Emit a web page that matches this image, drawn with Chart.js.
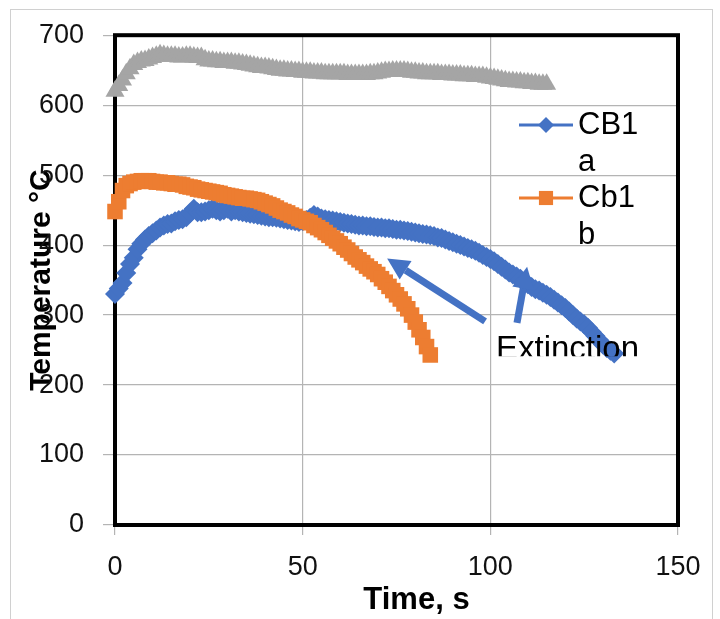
<!DOCTYPE html>
<html>
<head>
<meta charset="utf-8">
<script src="https://cdn.jsdelivr.net/npm/chart.js@4.4.1/dist/chart.umd.min.js"></script>
<style>
  html, body { margin: 0; padding: 0; background: #fff; }
  #wrap { width: 720px; height: 619px; }
</style>
</head>
<body>
<div id="wrap"><canvas id="temp-chart" width="720" height="619"></canvas></div>
<script>
// temperature readings in °C, one per second starting at t = 0 s
const cb1a = [
    330, 338, 346, 360, 373, 382, 394, 402, 408, 413,
    417, 421, 425, 428, 430, 431, 434, 436, 437, 440,
    446, 452, 447, 447, 448, 450, 452, 450, 448, 450,
    452, 448, 450, 448, 447, 446, 445, 444, 443, 442,
    441, 440, 440, 439, 438, 437, 436, 435, 434, 433,
    434, 436, 439, 443, 441, 438, 437, 436, 435, 434,
    433, 432, 431, 430, 429, 428, 428, 427, 427, 426,
    425, 425, 424, 424, 423, 422, 422, 421, 420, 419,
    418, 417, 416, 415, 414, 413, 411, 410, 408, 406,
    404, 402, 400, 398, 396, 394, 392, 389, 386, 383,
    380, 377, 373, 369, 365, 361, 358, 355, 352, 348,
    344, 340, 337, 335, 332, 329, 326, 322, 318, 314,
    310, 305, 300, 295, 291, 287, 282, 276, 270, 264,
    258, 253, 249, 245,
];
const cb1b = [
    448, 462, 478, 485, 488, 490, 491, 492, 492, 492,
    491, 490, 490, 489, 489, 488, 487, 487, 486, 484,
    483, 482, 480, 479, 478, 477, 476, 475, 474, 472,
    471, 470, 469, 468, 467, 467, 466, 465, 464, 462,
    460, 458, 456, 453, 450, 448, 446, 443, 441, 438,
    436, 434, 432, 428, 425, 422, 418, 414, 410, 406,
    402, 397, 393, 388, 383, 379, 375, 370, 366, 362,
    358, 352, 347, 341, 335, 329, 323, 316, 309, 300,
    290, 279, 268, 255, 243,
];
const cb1c = [
    620, 628, 636, 645, 652, 658, 661, 663, 664, 666,
    668, 670, 672, 671, 670, 670, 670, 669, 669, 670,
    670, 669, 668, 668, 665, 663, 663, 662, 662, 661,
    661, 661, 660, 660, 659, 658, 657, 656, 655, 654,
    654, 653, 652, 651, 650, 650, 649, 649, 648, 648,
    647, 647, 647, 646, 646, 646, 645, 645, 645, 645,
    645, 645, 644, 644, 644, 644, 644, 644, 645, 645,
    646, 647, 648, 648, 649, 649, 649, 649, 648, 647,
    647, 646, 646, 645, 645, 645, 645, 644, 644, 644,
    643, 643, 643, 642, 642, 642, 641, 641, 641, 640,
    639, 638, 637, 636, 635, 634, 634, 633, 633, 632,
    632, 631, 631, 630, 630, 630,
];

const xTicks = [0, 50, 100, 150];
const yTicks = [0, 100, 200, 300, 400, 500, 600, 700];

const legendItems = [
    { lines: ['CB1', 'a'], color: '#4472C4', style: 'rectRot', radius: 8 },
    { lines: ['Cb1', 'b'], color: '#ED7D31', style: 'rect', radius: 10 },
];

// "Extinction" call-out, in data units (s, °C)
const arrows = [
    { from: [98.6, 291], to: [72.5, 381] },
    { from: [107.1, 289], to: [109.8, 369] },
];
const noteText = 'Extinction';
const notePos = [101.5, 237];

const FONT = "'Liberation Sans', Arial, sans-serif";
const BLUE = '#4472C4';
const ORANGE = '#ED7D31';
const GREY = '#A5A5A5';

const toPoints = (values) => values.map((v, i) => ({ x: i, y: v }));

const framePlugin = {
    id: 'frame',
    beforeDraw(chart) {
        const { ctx } = chart;
        ctx.save();
        ctx.strokeStyle = '#d0d0d0';
        ctx.lineWidth = 1;
        ctx.strokeRect(10.5, 9.5, 702, 640);
        ctx.restore();
    },
    beforeDatasetsDraw(chart) {
        const { ctx, chartArea: a } = chart;
        ctx.save();
        ctx.strokeStyle = '#000';
        ctx.lineWidth = 4;
        ctx.strokeRect(a.left, a.top, a.right - a.left, a.bottom - a.top);
        ctx.restore();
    },
};

const calloutPlugin = {
    id: 'callout',
    afterDatasetsDraw(chart) {
        const { ctx, scales: { x, y } } = chart;
        ctx.save();
        ctx.strokeStyle = BLUE;
        ctx.fillStyle = BLUE;
        ctx.lineWidth = 7;
        arrows.forEach(({ from, to }) => {
            const x1 = x.getPixelForValue(from[0]), y1 = y.getPixelForValue(from[1]);
            const x2 = x.getPixelForValue(to[0]), y2 = y.getPixelForValue(to[1]);
            const ang = Math.atan2(y2 - y1, x2 - x1);
            const head = 22;
            const bx = x2 - head * Math.cos(ang), by = y2 - head * Math.sin(ang);
            ctx.beginPath();
            ctx.moveTo(x1, y1);
            ctx.lineTo(bx, by);
            ctx.stroke();
            ctx.beginPath();
            ctx.moveTo(x2, y2);
            ctx.lineTo(bx + 11 * Math.sin(ang), by - 11 * Math.cos(ang));
            ctx.lineTo(bx - 11 * Math.sin(ang), by + 11 * Math.cos(ang));
            ctx.closePath();
            ctx.fill();
        });

        // the text box is cut off at the bottom in the original
        const tx = x.getPixelForValue(notePos[0]);
        const ty = y.getPixelForValue(notePos[1]);
        ctx.beginPath();
        ctx.rect(tx - 5, ty - 42, 220, 39);
        ctx.clip();
        ctx.fillStyle = '#000';
        ctx.font = `33px ${FONT}`;
        ctx.textBaseline = 'alphabetic';
        ctx.fillText(noteText, tx, ty);
        ctx.restore();
    },
    afterDraw(chart) {
        const { ctx, chartArea: a } = chart;
        ctx.save();

        // x title sits a little right of the plot centre in the original
        ctx.fillStyle = '#000';
        ctx.font = `bold 31px ${FONT}`;
        ctx.textAlign = 'center';
        ctx.textBaseline = 'middle';
        ctx.fillText('Time, s', (a.left + a.right) / 2 + 20, 600);

        ctx.font = `31px ${FONT}`;
        ctx.textAlign = 'left';
        legendItems.forEach((item, i) => {
            const cy = 125 + i * 73;
            ctx.strokeStyle = item.color;
            ctx.fillStyle = item.color;
            ctx.lineWidth = 3;
            ctx.beginPath();
            ctx.moveTo(519, cy);
            ctx.lineTo(573, cy);
            ctx.stroke();
            Chart.helpers.drawPoint(ctx, { pointStyle: item.style, radius: item.radius, borderWidth: 0 }, 546, cy);
            ctx.fillStyle = '#000';
            item.lines.forEach((t, j) => ctx.fillText(t, 578, cy + j * 37));
        });
        ctx.restore();
    },
};

const canvas = document.getElementById('temp-chart');

new Chart(canvas, {
    type: 'line',
    data: {
        datasets: [
            {
                label: 'CB1 a',
                data: toPoints(cb1a),
                borderColor: BLUE,
                backgroundColor: BLUE,
                borderWidth: 4,
                pointStyle: 'rectRot',
                pointRadius: 10,
                pointBorderWidth: 0,
                order: 2,
            },
            {
                label: 'Cb1 b',
                data: toPoints(cb1b),
                borderColor: ORANGE,
                backgroundColor: ORANGE,
                borderWidth: 4,
                pointStyle: 'rect',
                pointRadius: 11,
                pointBorderWidth: 0,
                order: 1,
            },
            {
                label: 'Cb1 c',
                data: toPoints(cb1c),
                borderColor: GREY,
                backgroundColor: GREY,
                borderWidth: 4,
                pointStyle: 'triangle',
                pointRadius: 11,
                pointBorderWidth: 0,
                order: 3,
            },
        ],
    },
    options: {
        responsive: false,
        animation: false,
        clip: false,
        layout: { padding: { top: 33, right: 42, left: 0, bottom: 0 } },
        plugins: {
            legend: { display: false },
            tooltip: { enabled: false },
        },
        scales: {
            x: {
                type: 'linear',
                min: 0,
                max: 150,
                afterBuildTicks: (scale) => { scale.ticks = xTicks.map((v) => ({ value: v })); },
                afterFit: (scale) => { scale.height = 94; },
                grid: { color: '#b4b4b4', lineWidth: 1.2, tickLength: 10 },
                border: { display: false },
                ticks: { color: '#111', padding: 16, font: { family: FONT, size: 27 } },
            },
            y: {
                min: 0,
                max: 700,
                afterBuildTicks: (scale) => { scale.ticks = yTicks.map((v) => ({ value: v })); },
                afterFit: (scale) => { scale.width = 115; },
                grid: { color: '#b4b4b4', lineWidth: 1.2, tickLength: 12 },
                border: { display: false },
                ticks: { color: '#111', padding: 19, font: { family: FONT, size: 27 } },
                title: {
                    display: true,
                    text: 'Temperature °C',
                    color: '#000',
                    font: { family: FONT, size: 30, weight: 'bold' },
                    padding: { top: 24, bottom: 0 },
                },
            },
        },
    },
    plugins: [framePlugin, calloutPlugin],
});
</script>
</body>
</html>
